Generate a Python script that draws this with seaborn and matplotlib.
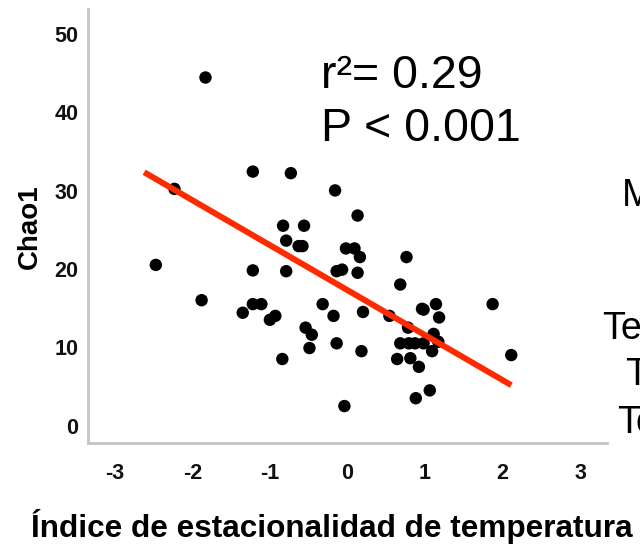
import matplotlib
matplotlib.use("Agg")
import matplotlib.pyplot as plt
import matplotlib.transforms as mtransforms
import seaborn as sns
import numpy as np
import pandas as pd

# ---- data ----
x_vals = [-1.83, -2.23, -2.47, -1.88, -1.35, -1.22, -1.11, -1.00, -0.93, -1.22,
          -1.22, -0.73, -0.83, -0.56, -0.79, -0.63, -0.58, -0.79, -0.84, -0.54,
          -0.46, -0.49, -0.32, -0.18, -0.14, -0.16, 0.13, -0.02, 0.09, 0.16,
          -0.14, -0.07, 0.13, 0.20, 0.18, -0.04, 0.76, 0.68, 0.54, 0.78,
          0.96, 0.98, 1.14, 1.18, 1.11, 0.68, 0.79, 0.87, 0.98, 1.17,
          1.09, 0.64, 0.81, 0.92, 1.06, 0.88, 1.87, 2.11]
y_vals = [43.9, 29.7, 20.0, 15.5, 13.9, 15.0, 15.0, 13.0, 13.5, 31.9,
          19.3, 31.7, 25.0, 25.0, 23.1, 22.4, 22.4, 19.2, 8.0, 12.0,
          11.1, 9.4, 15.0, 13.5, 10.0, 29.5, 26.3, 22.1, 22.1, 21.0,
          19.2, 19.4, 19.0, 14.0, 9.0, 2.0, 21.0, 17.5, 13.5, 12.0,
          14.4, 14.3, 15.0, 13.3, 11.2, 10.0, 10.0, 10.0, 10.0, 10.2,
          9.0, 8.0, 8.1, 7.0, 4.0, 3.0, 15.0, 8.5]
fit_x = [-2.62, 2.11]
fit_slope = -5.74
fit_intercept = 16.78
x_ticks = [-3, -2, -1, 0, 1, 2, 3]
y_ticks = [0, 10, 20, 30, 40, 50]
x_label = "Índice de estacionalidad de temperatura"
y_label = "Chao1"
stat_lines = ["r\u00b2= 0.29", "P < 0.001"]
side_texts = ["Media", "Temperatura", "T", "To"]

df = pd.DataFrame({"x": x_vals, "y": y_vals})
fit_df = pd.DataFrame({"x": fit_x,
                       "y": [fit_intercept + fit_slope * v for v in fit_x]})

sns.set_style("white")
plt.rcParams["font.family"] = ["Liberation Sans", "DejaVu Sans"]

fig = plt.figure(figsize=(6.4, 5.47), dpi=100)
ax = fig.add_axes([88.3 / 640, 1 - 443.3 / 547, 518.4 / 640, 434 / 547])

sns.scatterplot(data=df, x="x", y="y", ax=ax, color="black", s=80,
                edgecolor="none", zorder=3)
sns.lineplot(data=fit_df, x="x", y="y", ax=ax, color="#ff2a00", lw=4.3,
             zorder=4, solid_capstyle="butt")

ax.set_xlim(-3.34, 3.34)
ax.set_ylim(-2.75, 52.6)
ax.set_xticks(x_ticks)
ax.set_yticks(y_ticks)
ax.set_xticklabels([str(t) for t in x_ticks])
ax.set_yticklabels([str(t) for t in y_ticks])

spine_col = "#c4c4c4"
for s in ["top", "right"]:
    ax.spines[s].set_visible(False)
for s in ["left", "bottom"]:
    ax.spines[s].set_color(spine_col)
    ax.spines[s].set_linewidth(2.0)

ax.tick_params(axis="both", which="major", direction="out", length=5,
               width=1.2, color="#a0a0a0", labelsize=15.5, labelcolor="#111111")
ax.tick_params(axis="x", pad=9)
ax.tick_params(axis="y", pad=2)
for lab in ax.get_xticklabels() + ax.get_yticklabels():
    lab.set_fontweight("bold")
off = mtransforms.ScaledTranslation(0, -4 / 100, fig.dpi_scale_trans)
for lab in ax.get_yticklabels():
    lab.set_transform(lab.get_transform() + off)

ax.set_xlabel(x_label, fontsize=22.7, fontweight="bold", color="black")
ax.set_ylabel(y_label, fontsize=20, fontweight="bold", color="black")
ax.xaxis.set_label_coords(0.47, -0.152)
ax.yaxis.set_label_coords(-0.087, 0.5)

fig.text(321 / 640, 1 - 88 / 547, stat_lines[0], fontsize=33.5, va="baseline",
         ha="left", color="black")
fig.text(321 / 640, 1 - 141 / 547, stat_lines[1], fontsize=33.5, va="baseline",
         ha="left", color="black")

side_pos = [(621.7, 206), (601.7, 339), (625, 385), (616.7, 433)]
for txt, (px, py) in zip(side_texts, side_pos):
    fig.text(px / 640, 1 - py / 547, txt, fontsize=27, va="baseline",
             ha="left", color="black")

fig.savefig("out.png", dpi=100)
